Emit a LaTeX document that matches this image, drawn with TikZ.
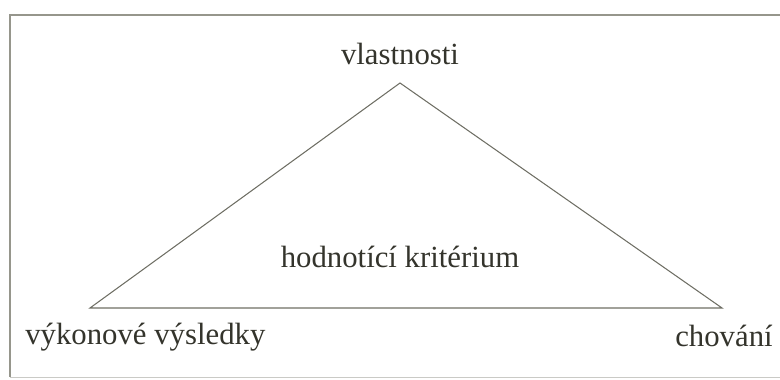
\documentclass[tikz,border=0pt]{standalone}
\usepackage{fontspec}
\setmainfont{Liberation Serif}
\definecolor{inkText}{RGB}{52, 52, 44}
\definecolor{inkLine}{RGB}{110, 110, 100}
\definecolor{frameLine}{RGB}{150, 150, 140}
\usetikzlibrary{positioning}

\begin{document}
\begin{tikzpicture}[
    label/.style={font=\fontsize{17.5}{20}\selectfont, text=inkText, inner sep=0pt},
    edge/.style={draw=inkLine, line width=0.6pt}
  ]
                \useasboundingbox (0,0) rectangle (15.6,7.6);

                % outer frame (open on the right, bottom edge faint)
                \draw[frameLine, line width=0.7pt] (15.6,7.3) -- (0.2,7.3) -- (0.2,0.06);
                \draw[frameLine!50, line width=0.5pt] (0.2,0.06) -- (15.6,0.06);

                % triangle corners
                \coordinate (top) at (8.0,5.94);
                \coordinate (left) at (1.8,1.44);
                \coordinate (right) at (14.44,1.44);
                \draw[edge] (top) -- (left) -- (right) -- cycle;

                % labels
                \node[label, anchor=base] (props) at (8.0,6.3) {vlastnosti};
                \node[label, anchor=base] (crit) at (8.0,2.24) {hodnotící kritérium};
                \node[label, anchor=base west] (perf) at (0.5,0.7) {výkonové výsledky};
                \node[label, anchor=base east] (behav) at (15.46,0.66) {chování};
            \end{tikzpicture}
\end{document}
